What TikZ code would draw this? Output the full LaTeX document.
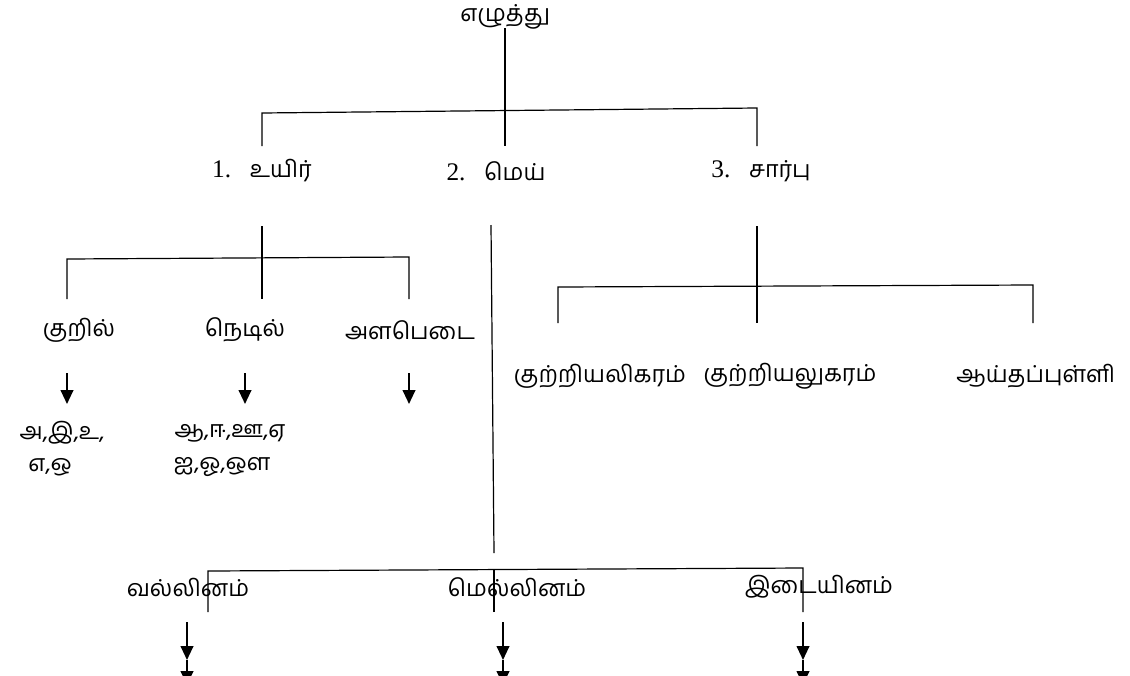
\documentclass[tikz,border=0pt]{standalone}
\usepackage{fontspec}
\setmainfont{Liberation Serif}
\newfontfamily\tamil[Script=Tamil]{Hind Madurai}
\usetikzlibrary{arrows.meta}

\begin{document}
\begin{tikzpicture}[x=0.75pt,y=-0.75pt,line width=0.9pt,
        down/.style={-{Triangle[length=10.5pt,width=9.5pt]},line width=1.5pt}]
            \useasboundingbox (0,0) rectangle (1130,675);
            \begin{scope}[every node/.style={inner sep=0pt,font=\fontsize{17.5}{21}\selectfont\tamil}]
                \node (ezhuthu) at (505,17) {எழுத்து};
                \node (uyir) at (262,171) {{\rmfamily\fontsize{19}{21}\selectfont 1.}\hspace{0.8em}உயிர்};
                \node (mei) at (496,171) {{\rmfamily\fontsize{19}{21}\selectfont 2.}\hspace{0.8em}மெய்};
                \node (saarpu) at (761,171) {{\rmfamily\fontsize{19}{21}\selectfont 3.}\hspace{0.8em}சார்பு};
                \node (kuril) at (79,330) {குறில்};
                \node (nedil) at (245,330) {நெடில்};
                \node (alapedai) at (410,330) {அளபெடை};
                \node (kurilA) at (62,433) {அ,இ,உ,};
                \node (kurilB) at (50,467) {எ,ஒ};
                \node (nedilA) at (230,433) {ஆ,ஈ,ஊ,ஏ};
                \node (nedilB) at (222,467) {ஐ,ஓ,ஔ};
                \node (ikaram) at (600,376) {குற்றியலிகரம்};
                \node (ukaram) at (790,376) {குற்றியலுகரம்};
                \node (aytham) at (1036,376) {ஆய்தப்புள்ளி};
                \node (vallinam) at (188,587) {வல்லினம்};
                \node (mellinam) at (517,587) {மெல்லினம்};
                \node (idaiyinam) at (819,587) {இடையினம்};
            \end{scope}
            % top level
            \coordinate (e0) at (505,28);  \coordinate (e1) at (505,146);
            \coordinate (u0) at (262,146); \coordinate (u1) at (262,113);
            \coordinate (s0) at (757,146); \coordinate (s1) at (757,108);
            \draw (e0) -- (e1);
            \draw (u0) -- (u1) -- (s1) -- (s0);
            % uyir
            \coordinate (ut) at (262,226); \coordinate (ub) at (262,299);
            \coordinate (k0) at (67,299);  \coordinate (k1) at (67,259);
            \coordinate (a0) at (409,299); \coordinate (a1) at (409,257);
            \draw (ut) -- (ub);
            \draw (k0) -- (k1) -- (a1) -- (a0);
            % mei
            \coordinate (mt) at (491,225); \coordinate (mb) at (494,553);
            \draw (mt) -- (mb);
            \coordinate (v0) at (208,612); \coordinate (v1) at (208,571);
            \coordinate (i0) at (803,612); \coordinate (i1) at (803,568);
            \coordinate (m0) at (494,612); \coordinate (m1) at (494,570);
            \draw (v0) -- (v1) -- (i1) -- (i0);
            \draw (m0) -- (m1);
            % saarpu
            \coordinate (st) at (757,226); \coordinate (sb) at (757,323);
            \coordinate (p0) at (558,323); \coordinate (p1) at (558,287);
            \coordinate (q0) at (1033,323); \coordinate (q1) at (1033,285);
            \draw (st) -- (sb);
            \draw (p0) -- (p1) -- (q1) -- (q0);
            % arrows
            \foreach \x/\n in {67/ka,245/na,409/aa} {
                \coordinate (\n0) at (\x,373); \coordinate (\n1) at (\x,404);
                \draw[down] (\n0) -- (\n1);
            }
            \foreach \x/\n in {187/va,503/me,803/id} {
                \coordinate (\n0) at (\x,622); \coordinate (\n1) at (\x,660);
                \coordinate (\n2) at (\x,685);
                \draw[down] (\n0) -- (\n1);
                \draw[down] (\n1) -- (\n2);
            }
        \end{tikzpicture}
\end{document}
